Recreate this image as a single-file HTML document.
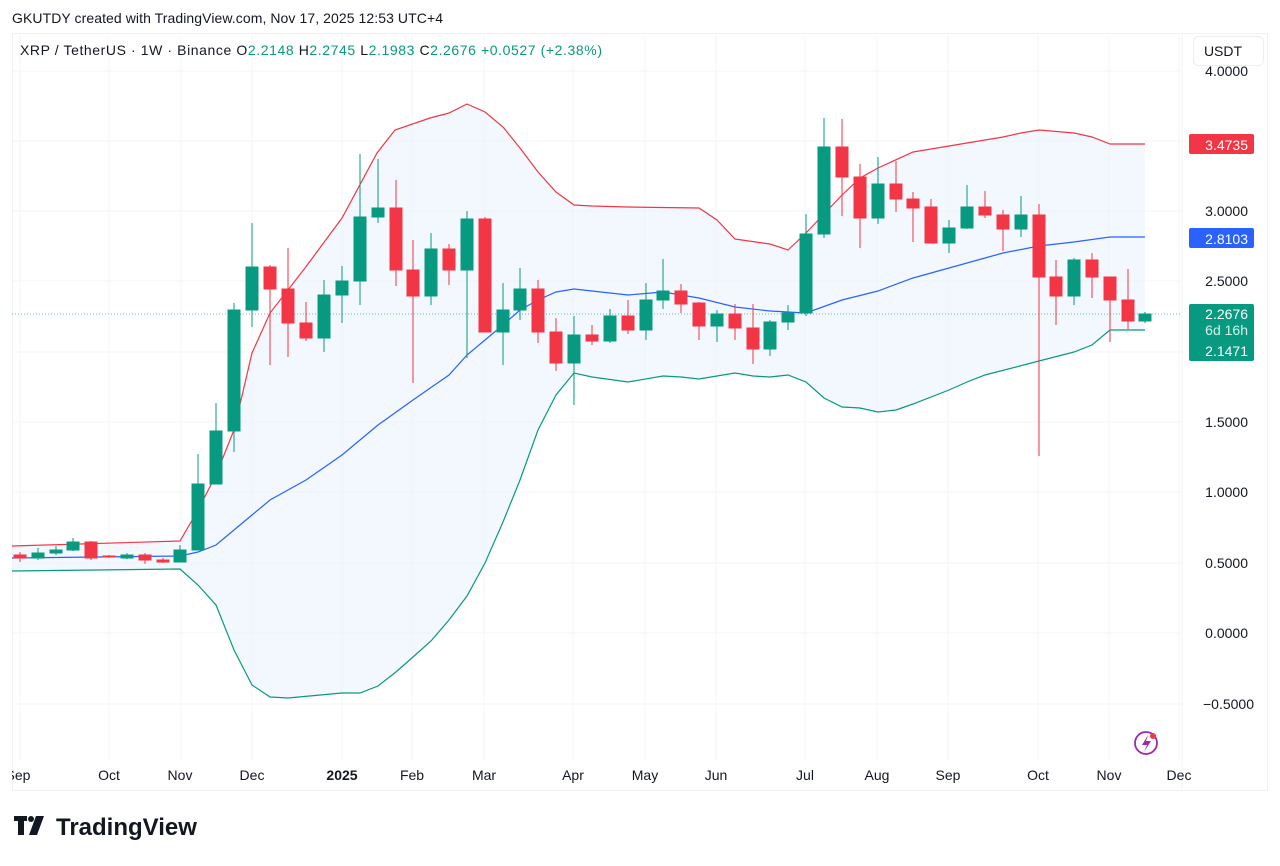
<!DOCTYPE html>
<html><head><meta charset="utf-8"><style>
body{margin:0;background:#fff;font-family:"Liberation Sans",sans-serif;}
</style></head><body>
<svg width="1280" height="861" viewBox="0 0 1280 861" xmlns="http://www.w3.org/2000/svg" font-family="Liberation Sans, sans-serif">
<rect width="1280" height="861" fill="#fff"/>
<text x="12" y="23" font-size="14" fill="#131722" textLength="431">GKUTDY created with TradingView.com, Nov 17, 2025 12:53 UTC+4</text>
<rect x="12.5" y="33.5" width="1255" height="757" fill="none" stroke="#f0f2f5"/>
<g stroke="#f2f4f7" stroke-width="1">
<line x1="12" y1="71" x2="1182" y2="71"/><line x1="12" y1="141" x2="1182" y2="141"/><line x1="12" y1="211" x2="1182" y2="211"/><line x1="12" y1="281" x2="1182" y2="281"/><line x1="12" y1="352" x2="1182" y2="352"/><line x1="12" y1="422" x2="1182" y2="422"/><line x1="12" y1="492" x2="1182" y2="492"/><line x1="12" y1="563" x2="1182" y2="563"/><line x1="12" y1="633" x2="1182" y2="633"/><line x1="12" y1="704" x2="1182" y2="704"/>
<line x1="20" y1="33" x2="20" y2="760"/><line x1="109" y1="33" x2="109" y2="760"/><line x1="181" y1="33" x2="181" y2="760"/><line x1="252" y1="33" x2="252" y2="760"/><line x1="342" y1="33" x2="342" y2="760"/><line x1="412" y1="33" x2="412" y2="760"/><line x1="484" y1="33" x2="484" y2="760"/><line x1="573" y1="33" x2="573" y2="760"/><line x1="645" y1="33" x2="645" y2="760"/><line x1="716" y1="33" x2="716" y2="760"/><line x1="805" y1="33" x2="805" y2="760"/><line x1="877" y1="33" x2="877" y2="760"/><line x1="948" y1="33" x2="948" y2="760"/><line x1="1038" y1="33" x2="1038" y2="760"/><line x1="1109" y1="33" x2="1109" y2="760"/><line x1="1179" y1="33" x2="1179" y2="760"/>
<line x1="1182" y1="33" x2="1182" y2="790"/>
</g>
<polygon fill="#eaf3fc" fill-opacity="0.6" points="12,546 180,541 198,510 216,475 234,430 252,353 270,313 305,268 342,218 377,153 395,130 430,118 449,113 467,104 485,112 503,127 520,148 538,172 556,192 574,205 592,206 628,207 699,208 717,220 735,239 770,244 788,250 806,233 842,195 860,178 878,168 913,152 949,146 985,140 1003,137 1021,133 1039,130 1074,133 1092,137 1110,144 1145,144 1145,330 1110,330 1092,345 1074,352 1039,361 985,375 967,382 949,390 913,404 896,410 878,412 860,408 842,407 824,398 806,382 788,375 770,377 753,376 735,373 699,379 681,377 663,376 628,382 592,377 574,373 556,395 538,430 520,480 503,522 485,563 467,596 449,620 431,641 413,657 396,672 378,686 360,693 342,693 288,698 270,697 252,685 234,650 216,605 198,585 180,569 12,571"/>
<polyline fill="none" stroke="#f23645" stroke-width="1.2" points="12,546 180,541 198,510 216,475 234,430 252,353 270,313 305,268 342,218 377,153 395,130 430,118 449,113 467,104 485,112 503,127 520,148 538,172 556,192 574,205 592,206 628,207 699,208 717,220 735,239 770,244 788,250 806,233 842,195 860,178 878,168 913,152 949,146 985,140 1003,137 1021,133 1039,130 1074,133 1092,137 1110,144 1145,144"/>
<polyline fill="none" stroke="#2962ff" stroke-width="1.2" points="12,558 180,556 198,552 216,545 234,530 252,515 270,500 306,480 342,455 378,425 413,400 449,375 467,355 485,340 503,325 520,310 538,300 556,292 574,289 610,293 628,295 663,292 699,298 735,307 770,311 806,313 842,300 878,291 913,278 949,268 985,258 1003,253 1039,246 1074,242 1110,237 1145,237"/>
<polyline fill="none" stroke="#089981" stroke-width="1.2" points="12,571 180,569 198,585 216,605 234,650 252,685 270,697 288,698 342,693 360,693 378,686 396,672 413,657 431,641 449,620 467,596 485,563 503,522 520,480 538,430 556,395 574,373 592,377 628,382 663,376 681,377 699,379 735,373 753,376 770,377 788,375 806,382 824,398 842,407 860,408 878,412 896,410 913,404 949,390 967,382 985,375 1039,361 1074,352 1092,345 1110,330 1145,330"/>
<line x1="12" y1="314" x2="1182" y2="314" stroke="#089981" stroke-dasharray="1,2" stroke-opacity="0.6"/>
<g stroke-width="1">
<g fill="#089981" stroke="#089981">
<line x1="38" y1="548" x2="38" y2="560"/><rect x="32" y="553" width="12" height="5"/>
<line x1="56" y1="546" x2="56" y2="555"/><rect x="50" y="550" width="12" height="3"/>
<line x1="73" y1="538" x2="73" y2="551"/><rect x="67" y="542" width="12" height="8"/>
<line x1="127" y1="553" x2="127" y2="559"/><rect x="121" y="555" width="12" height="3"/>
<line x1="180" y1="545" x2="180" y2="562"/><rect x="174" y="550" width="12" height="12"/>
<line x1="198" y1="454" x2="198" y2="550"/><rect x="192" y="484" width="12" height="66"/>
<line x1="216" y1="403" x2="216" y2="484"/><rect x="210" y="431" width="12" height="53"/>
<line x1="234" y1="303" x2="234" y2="452"/><rect x="228" y="310" width="12" height="121"/>
<line x1="252" y1="223" x2="252" y2="327"/><rect x="246" y="267" width="12" height="43"/>
<line x1="324" y1="280" x2="324" y2="352"/><rect x="318" y="295" width="12" height="43"/>
<line x1="342" y1="266" x2="342" y2="323"/><rect x="336" y="281" width="12" height="14"/>
<line x1="360" y1="154" x2="360" y2="305"/><rect x="354" y="217" width="12" height="64"/>
<line x1="378" y1="159" x2="378" y2="223"/><rect x="372" y="208" width="12" height="9"/>
<line x1="431" y1="233" x2="431" y2="305"/><rect x="425" y="249" width="12" height="47"/>
<line x1="467" y1="211" x2="467" y2="358"/><rect x="461" y="219" width="12" height="51"/>
<line x1="503" y1="283" x2="503" y2="365"/><rect x="497" y="310" width="12" height="22"/>
<line x1="520" y1="268" x2="520" y2="320"/><rect x="514" y="289" width="12" height="21"/>
<line x1="574" y1="316" x2="574" y2="405"/><rect x="568" y="335" width="12" height="28"/>
<line x1="610" y1="309" x2="610" y2="343"/><rect x="604" y="316" width="12" height="25"/>
<line x1="646" y1="283" x2="646" y2="340"/><rect x="640" y="300" width="12" height="30"/>
<line x1="663" y1="259" x2="663" y2="309"/><rect x="657" y="291" width="12" height="9"/>
<line x1="717" y1="310" x2="717" y2="342"/><rect x="711" y="314" width="12" height="12"/>
<line x1="770" y1="320" x2="770" y2="356"/><rect x="764" y="322" width="12" height="27"/>
<line x1="788" y1="305" x2="788" y2="330"/><rect x="782" y="313" width="12" height="9"/>
<line x1="806" y1="214" x2="806" y2="316"/><rect x="800" y="234" width="12" height="79"/>
<line x1="824" y1="118" x2="824" y2="238"/><rect x="818" y="147" width="12" height="87"/>
<line x1="878" y1="157" x2="878" y2="224"/><rect x="872" y="184" width="12" height="34"/>
<line x1="949" y1="220" x2="949" y2="253"/><rect x="943" y="228" width="12" height="15"/>
<line x1="967" y1="185" x2="967" y2="229"/><rect x="961" y="207" width="12" height="21"/>
<line x1="1021" y1="196" x2="1021" y2="237"/><rect x="1015" y="215" width="12" height="14"/>
<line x1="1074" y1="258" x2="1074" y2="305"/><rect x="1068" y="260" width="12" height="36"/>
<line x1="1145" y1="312" x2="1145" y2="323"/><rect x="1139" y="314" width="12" height="7"/>
</g>
<g fill="#f23645" stroke="#f23645">
<line x1="20" y1="552" x2="20" y2="562"/><rect x="14" y="555" width="12" height="3"/>
<line x1="91" y1="541" x2="91" y2="560"/><rect x="85" y="542" width="12" height="16"/>
<line x1="109" y1="555" x2="109" y2="558"/><rect x="103" y="556" width="12" height="1"/>
<line x1="145" y1="553" x2="145" y2="564"/><rect x="139" y="555" width="12" height="5"/>
<line x1="163" y1="558" x2="163" y2="563"/><rect x="157" y="560" width="12" height="2"/>
<line x1="270" y1="265" x2="270" y2="365"/><rect x="264" y="267" width="12" height="22"/>
<line x1="288" y1="248" x2="288" y2="357"/><rect x="282" y="289" width="12" height="34"/>
<line x1="306" y1="302" x2="306" y2="341"/><rect x="300" y="323" width="12" height="15"/>
<line x1="396" y1="180" x2="396" y2="286"/><rect x="390" y="208" width="12" height="62"/>
<line x1="413" y1="240" x2="413" y2="383"/><rect x="407" y="270" width="12" height="26"/>
<line x1="449" y1="244" x2="449" y2="285"/><rect x="443" y="249" width="12" height="21"/>
<line x1="485" y1="217" x2="485" y2="332"/><rect x="479" y="219" width="12" height="113"/>
<line x1="538" y1="280" x2="538" y2="343"/><rect x="532" y="289" width="12" height="43"/>
<line x1="556" y1="318" x2="556" y2="371"/><rect x="550" y="332" width="12" height="31"/>
<line x1="592" y1="325" x2="592" y2="345"/><rect x="586" y="335" width="12" height="6"/>
<line x1="628" y1="300" x2="628" y2="334"/><rect x="622" y="316" width="12" height="14"/>
<line x1="681" y1="284" x2="681" y2="313"/><rect x="675" y="291" width="12" height="13"/>
<line x1="699" y1="302" x2="699" y2="340"/><rect x="693" y="303" width="12" height="23"/>
<line x1="735" y1="304" x2="735" y2="340"/><rect x="729" y="314" width="12" height="14"/>
<line x1="753" y1="304" x2="753" y2="364"/><rect x="747" y="328" width="12" height="21"/>
<line x1="842" y1="119" x2="842" y2="216"/><rect x="836" y="147" width="12" height="30"/>
<line x1="860" y1="164" x2="860" y2="248"/><rect x="854" y="177" width="12" height="41"/>
<line x1="896" y1="161" x2="896" y2="212"/><rect x="890" y="184" width="12" height="15"/>
<line x1="913" y1="192" x2="913" y2="242"/><rect x="907" y="199" width="12" height="9"/>
<line x1="931" y1="199" x2="931" y2="243"/><rect x="925" y="207" width="12" height="36"/>
<line x1="985" y1="191" x2="985" y2="218"/><rect x="979" y="207" width="12" height="8"/>
<line x1="1003" y1="210" x2="1003" y2="251"/><rect x="997" y="215" width="12" height="14"/>
<line x1="1039" y1="204" x2="1039" y2="456"/><rect x="1033" y="215" width="12" height="62"/>
<line x1="1056" y1="260" x2="1056" y2="325"/><rect x="1050" y="277" width="12" height="19"/>
<line x1="1092" y1="253" x2="1092" y2="298"/><rect x="1086" y="260" width="12" height="17"/>
<line x1="1110" y1="277" x2="1110" y2="342"/><rect x="1104" y="277" width="12" height="23"/>
<line x1="1128" y1="269" x2="1128" y2="329"/><rect x="1122" y="300" width="12" height="21"/>
</g>
</g>
<text x="20" y="55" font-size="14" fill="#131722" textLength="582">XRP / TetherUS · 1W · Binance  O<tspan fill="#089981">2.2148</tspan>  H<tspan fill="#089981">2.2745</tspan>  L<tspan fill="#089981">2.1983</tspan>  C<tspan fill="#089981">2.2676  +0.0527  (+2.38%)</tspan></text>
<g font-size="14" fill="#131722" text-anchor="end">
<text x="1248" y="76">4.0000</text>
<text x="1248" y="216">3.0000</text>
<text x="1248" y="286">2.5000</text>
<text x="1248" y="427">1.5000</text>
<text x="1248" y="497">1.0000</text>
<text x="1248" y="568">0.5000</text>
<text x="1248" y="638">0.0000</text>
<text x="1254" y="709">−0.5000</text>
</g>
<rect x="1193.5" y="36.5" width="70" height="29" rx="5" fill="#fff" stroke="#eceef2"/>
<text x="1223" y="56" font-size="14" fill="#131722" text-anchor="middle">USDT</text>
<rect x="1189" y="134" width="65" height="20" rx="2" fill="#f23645"/>
<text x="1248" y="150" font-size="14" fill="#fff" text-anchor="end">3.4735</text>
<rect x="1189" y="228" width="65" height="20" rx="2" fill="#2962ff"/>
<text x="1248" y="244" font-size="14" fill="#fff" text-anchor="end">2.8103</text>
<rect x="1189" y="304" width="65" height="57" rx="2" fill="#089981"/>
<text x="1248" y="319" font-size="14" fill="#fff" text-anchor="end">2.2676</text>
<text x="1248" y="335" font-size="14" fill="#d6f0ea" text-anchor="end">6d 16h</text>
<text x="1248" y="356" font-size="14" fill="#fff" text-anchor="end">2.1471</text>
<g font-size="14" fill="#131722" text-anchor="middle">
<text x="18" y="780">Sep</text><text x="109" y="780">Oct</text><text x="180" y="780">Nov</text><text x="252" y="780">Dec</text><text x="342" y="780" font-weight="bold">2025</text><text x="412" y="780">Feb</text><text x="484" y="780">Mar</text><text x="573" y="780">Apr</text><text x="645" y="780">May</text><text x="716" y="780">Jun</text><text x="805" y="780">Jul</text><text x="877" y="780">Aug</text><text x="948" y="780">Sep</text><text x="1038" y="780">Oct</text><text x="1109" y="780">Nov</text><text x="1179" y="780">Dec</text>
</g>
<rect x="0" y="760" width="12" height="30" fill="#fff"/>
<circle cx="1146" cy="743" r="11" fill="none" stroke="#9c27b0" stroke-width="1.8"/>
<path d="M1148 735 L1142 745 L1147 745 L1144 752 L1151 741 L1146 741 Z" fill="#9c27b0"/>
<circle cx="1153" cy="736" r="3" fill="#f23645"/>
<g fill="#131722">
<rect x="14" y="816" width="13" height="5"/><rect x="18" y="816" width="6" height="19"/>
<circle cx="31" cy="819" r="3"/>
<polygon points="36,816 44,816 37,835 29,835"/>
</g>
<text x="56" y="835" font-size="24" font-weight="bold" fill="#131722">TradingView</text>
</svg>
</body></html>
